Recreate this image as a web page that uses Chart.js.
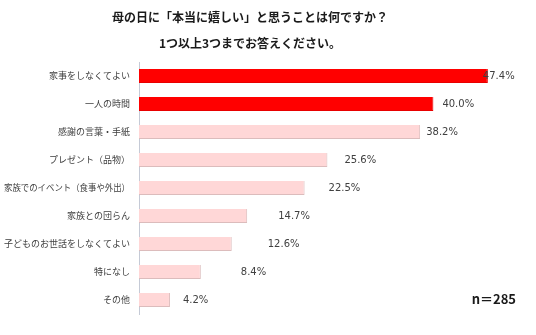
<!DOCTYPE html>
<html lang="ja">
<head>
<meta charset="utf-8">
<script src="https://cdn.jsdelivr.net/npm/chart.js@4/dist/chart.umd.min.js"></script>
<style>
  html, body { margin: 0; padding: 0; background: #fff; }
  #wrap { width: 536px; height: 335px; position: relative; }
</style>
</head>
<body>
<div id="wrap"><canvas id="chart"></canvas></div>
<script>
// Survey answers, share of respondents (%)
const categories = [
  '家事をしなくてよい',
  '一人の時間',
  '感謝の言葉・手紙',
  'プレゼント（品物）',
  '家族でのイベント（食事や外出）',
  '家族との団らん',
  '子どものお世話をしなくてよい',
  '特になし',
  'その他',
];
const shares = [47.4, 40.0, 38.2, 25.6, 22.5, 14.7, 12.6, 8.4, 4.2];
const titleLines = ['母の日に「本当に嬉しい」と思うことは何ですか？', '1つ以上3つまでお答えください。'];
const sampleNote = 'n＝285';

const JP = '"Noto Sans CJK JP", "Noto Sans", sans-serif';

// top two answers are highlighted
const fill   = shares.map((_, i) => i < 2 ? '#ff0000' : '#ffd7d7');
const stroke = shares.map((_, i) => i < 2 ? '#e80000' : '#dcbcbc');

// category labels drawn at the y scale's positions, squeezed when too long
const categoryLabels = {
  id: 'categoryLabels',
  afterDraw(chart, args, opts) {
    const { ctx } = chart;
    const y = chart.scales.y;
    ctx.save();
    ctx.font = '9px ' + JP;
    ctx.fillStyle = '#404040';
    ctx.textAlign = 'right';
    ctx.textBaseline = 'middle';
    const right = y.right - opts.gap;
    chart.data.labels.forEach((lab, i) => {
      ctx.fillText(lab, right, y.getPixelForValue(i), right - 4);
    });
    ctx.restore();
  }
};

// value labels, with a per-row horizontal nudge from the bar end
const valueLabels = {
  id: 'valueLabels',
  afterDatasetsDraw(chart, args, opts) {
    const { ctx } = chart;
    const meta = chart.getDatasetMeta(0);
    ctx.save();
    ctx.font = '10px "DejaVu Sans", Verdana, sans-serif';
    ctx.fillStyle = '#404040';
    ctx.textAlign = 'left';
    ctx.textBaseline = 'middle';
    meta.data.forEach((bar, i) => {
      const v = chart.data.datasets[0].data[i];
      ctx.fillText(v.toFixed(1) + '%', bar.x + (opts.nudge[i] || 0), bar.y);
    });
    ctx.restore();
  }
};

// two-line heading plus the sample size note
const headings = {
  id: 'headings',
  afterDraw(chart) {
    const { ctx } = chart;
    ctx.save();
    ctx.fillStyle = '#1a1a1a';
    ctx.font = 'bold 12px ' + JP;
    ctx.textAlign = 'center';
    ctx.textBaseline = 'middle';
    ctx.fillText(titleLines[0], 250, 17);
    ctx.fillText(titleLines[1], 250, 43);
    ctx.textAlign = 'right';
    ctx.font = 'bold 13px ' + JP;
    ctx.fillText(sampleNote, 516, 299);
    ctx.restore();
  }
};

new Chart(document.getElementById('chart'), {
  type: 'bar',
  data: {
    labels: categories,
    datasets: [{
      data: shares,
      backgroundColor: fill,
      borderColor: stroke,
      borderWidth: { top: 0, left: 0, right: 1, bottom: 1 },
      borderSkipped: false,
      barPercentage: 0.5,
      categoryPercentage: 1,
    }],
  },
  options: {
    indexAxis: 'y',
    responsive: true,
    maintainAspectRatio: false,
    animation: false,
    layout: { padding: { left: 0, right: 29, top: 62, bottom: 21 } },
    plugins: {
      legend: { display: false },
      tooltip: { enabled: false },
      valueLabels: { nudge: [-5, 9, 6, 17, 24, 31, 36, 40, 13] },
      categoryLabels: { gap: 9 },
    },
    scales: {
      x: { display: false, min: 0, max: 50 },
      y: {
        grid: { display: false },
        border: { display: true, color: '#c5cad6', width: 1 },
        ticks: { display: false },
        afterFit(scale) { scale.width = 139; },
      },
    },
  },
  plugins: [valueLabels, categoryLabels, headings],
});
</script>
</body>
</html>
